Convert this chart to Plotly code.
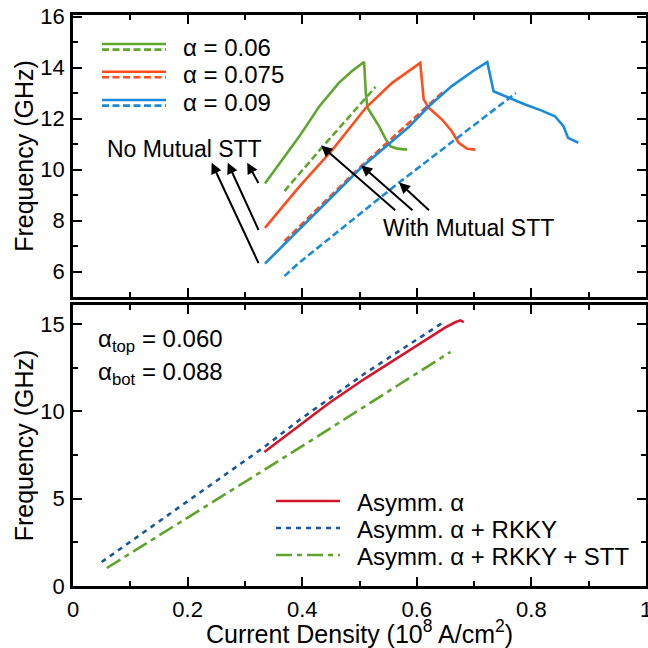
import plotly.graph_objects as go

# ---------------- data: top panel ----------------
x_g_no = [0.335, 0.395, 0.430, 0.464, 0.487, 0.508, 0.511, 0.514, 0.534, 0.546, 0.554, 0.566, 0.583]
y_g_no = [9.45, 11.30, 12.48, 13.40, 13.86, 14.22, 13.00, 12.42, 11.70, 11.18, 10.91, 10.82, 10.78]
x_g_mu = [0.369, 0.432, 0.528]
y_g_mu = [9.15, 10.80, 13.24]

x_r_no = [0.335, 0.395, 0.453, 0.511, 0.557, 0.586, 0.603, 0.606, 0.612, 0.621, 0.644, 0.661, 0.673, 0.688, 0.702]
y_r_no = [7.71, 9.33, 10.78, 12.42, 13.40, 13.86, 14.10, 14.18, 12.75, 12.42, 11.96, 11.50, 11.05, 10.81, 10.78]
x_r_mu = [0.369, 0.499, 0.647]
y_r_mu = [7.19, 10.05, 13.07]

x_b_no = [0.335, 0.395, 0.503, 0.586, 0.621, 0.661, 0.702, 0.723, 0.734, 0.743, 0.760, 0.789, 0.818, 0.841, 0.856, 0.864, 0.882]
y_b_no = [6.31, 7.65, 10.08, 11.67, 12.48, 13.27, 13.92, 14.21, 13.07, 12.98, 12.81, 12.55, 12.31, 12.09, 11.70, 11.24, 11.05]
x_b_mu = [0.369, 0.395, 0.569, 0.773]
y_b_mu = [5.82, 6.35, 9.49, 13.00]

top_labels = ["α = 0.06", "α = 0.075", "α = 0.09"]

# ---------------- data: bottom panel ----------------
x_asym = [0.334, 0.395, 0.447, 0.511, 0.650, 0.667, 0.676, 0.682]
y_asym = [7.67, 9.20, 10.47, 11.90, 14.80, 15.09, 15.20, 15.10]
x_rkky = [0.050, 0.334, 0.395, 0.511, 0.650]
y_rkky = [1.37, 7.96, 9.50, 12.20, 15.17]
x_stt = [0.059, 0.334, 0.395, 0.659]
y_stt = [1.03, 6.64, 7.90, 13.40]
bottom_labels = ["Asymm. α", "Asymm. α + RKKY", "Asymm. α + RKKY + STT"]

GREEN, ORANGE, BLUE = "#5ea62c", "#ff4d1c", "#1b8ad8"
RED2, BLUE2, GREEN2 = "#d4152a", "#1a5799", "#5ca52a"
LW = 2.6
DASH_TOP = "7px,3.5px"
DOT_BOT = "5px,5px"
DASHDOT_BOT = "16px,5px,5px,5px"

FONT = "Liberation Sans, Arial, sans-serif"
W, H, L, R, T, B = 648, 648, 73, 2, 15, 62


def px_x(p):
    return (p - L) / (W - L - R)


def px_y(p):
    return (H - B - p) / (H - T - B)


fig = go.Figure()


def add(x, y, color, dash, xa, ya):
    fig.add_trace(go.Scatter(x=x, y=y, mode="lines", xaxis=xa, yaxis=ya,
                             line=dict(color=color, width=LW, dash=dash),
                             showlegend=False, hoverinfo="skip"))


add(x_g_no, y_g_no, GREEN, "solid", "x", "y")
add(x_g_mu, y_g_mu, GREEN, DASH_TOP, "x", "y")
add(x_r_no, y_r_no, ORANGE, "solid", "x", "y")
add(x_r_mu, y_r_mu, ORANGE, DASH_TOP, "x", "y")
add(x_b_no, y_b_no, BLUE, "solid", "x", "y")
add(x_b_mu, y_b_mu, BLUE, DASH_TOP, "x", "y")

add(x_asym, y_asym, RED2, "solid", "x2", "y2")
add(x_rkky, y_rkky, BLUE2, DOT_BOT, "x2", "y2")
add(x_stt, y_stt, GREEN2, DASHDOT_BOT, "x2", "y2")

axis_common = dict(showline=True, linecolor="black", linewidth=2.5, mirror="allticks",
                   ticks="inside", ticklen=9, tickwidth=2, tickcolor="black",
                   showgrid=False, zeroline=False, automargin=False,
                   ticklabeloverflow="allow",
                   tickfont=dict(family=FONT, size=22, color="black"))
minor_common = dict(ticklen=5, tickwidth=2, ticks="inside", tickcolor="black", showgrid=False)

top_dom = [px_y(297), 1.0]
bot_dom = [0.0, px_y(305)]

fig.update_layout(
    template="none",
    width=W, height=H,
    margin=dict(l=L, r=R, t=T, b=B, autoexpand=False),
    plot_bgcolor="white", paper_bgcolor="white",
    font=dict(family=FONT, size=22, color="black"),
    showlegend=False,
    xaxis=dict(axis_common, range=[0, 1], dtick=0.2, showticklabels=False,
               domain=[0, 1], anchor="y",
               minor=dict(minor_common, dtick=0.1)),
    yaxis=dict(axis_common, range=[5.0, 16.06], tickvals=[6, 8, 10, 12, 14, 16],
               domain=top_dom, anchor="x", ticklabelstandoff=1,
               minor=dict(minor_common, tickvals=[7, 9, 11, 13, 15]),
               title=dict(text="Frequency (GHz)", font=dict(family=FONT, size=25), standoff=0)),
    xaxis2=dict(axis_common, range=[0, 1], tickvals=[0, 0.2, 0.4, 0.6, 0.8, 1],
                ticktext=["0", "0.2", "0.4", "0.6", "0.8", "1"],
                domain=[0, 1], anchor="y2", ticklabelstandoff=2,
                minor=dict(minor_common, dtick=0.1),
                title=dict(text="Current Density (10<sup>8</sup> A/cm<sup>2</sup>)",
                           font=dict(family=FONT, size=25), standoff=6)),
    yaxis2=dict(axis_common, range=[0, 16.08], tickvals=[0, 5, 10, 15],
                domain=bot_dom, anchor="x2", ticklabelstandoff=1,
                minor=dict(minor_common, tickvals=[2.5, 7.5, 12.5]),
                title=dict(text="Frequency (GHz)", font=dict(family=FONT, size=25), standoff=0)),
)

# ---------------- manual legend, top panel ----------------
top_colors = [GREEN, ORANGE, BLUE]
top_solid_y = [44, 71.7, 100]
for lab, col, yy in zip(top_labels, top_colors, top_solid_y):
    fig.add_shape(type="line", xref="paper", yref="paper",
                  x0=px_x(102), x1=px_x(166), y0=px_y(yy), y1=px_y(yy),
                  line=dict(color=col, width=LW))
    fig.add_shape(type="line", xref="paper", yref="paper",
                  x0=px_x(102), x1=px_x(166), y0=px_y(yy + 5.6), y1=px_y(yy + 5.6),
                  line=dict(color=col, width=LW, dash=DASH_TOP))
    fig.add_annotation(xref="paper", yref="paper", x=px_x(181), y=px_y(yy + 3),
                       text=lab, showarrow=False, xanchor="left", yanchor="middle",
                       font=dict(family=FONT, size=24, color="black"))

# ---------------- manual legend, bottom panel ----------------
bot_colors = [RED2, BLUE2, GREEN2]
bot_dashes = ["solid", DOT_BOT, DASHDOT_BOT]
bot_y = [501, 528, 555]
for lab, col, d, yy in zip(bottom_labels, bot_colors, bot_dashes, bot_y):
    fig.add_shape(type="line", xref="paper", yref="paper",
                  x0=px_x(276), x1=px_x(340), y0=px_y(yy), y1=px_y(yy),
                  line=dict(color=col, width=LW, dash=d))
    fig.add_annotation(xref="paper", yref="paper", x=px_x(355), y=px_y(yy + 1.5),
                       text=lab, showarrow=False, xanchor="left", yanchor="middle",
                       font=dict(family=FONT, size=24, color="black"))

fig.add_annotation(xref="paper", yref="paper", x=px_x(96), y=px_y(340),
                   text="α<sub>top</sub> = 0.060", showarrow=False, xanchor="left", yanchor="middle",
                   font=dict(family=FONT, size=24, color="black"))
fig.add_annotation(xref="paper", yref="paper", x=px_x(96), y=px_y(373),
                   text="α<sub>bot</sub> = 0.088", showarrow=False, xanchor="left", yanchor="middle",
                   font=dict(family=FONT, size=24, color="black"))

# ---------------- arrows + labels, top panel ----------------
no_heads = [(0.242, 10.27), (0.270, 10.27), (0.304, 10.27)]
no_tails = [(0.325, 6.27), (0.325, 7.57), (0.325, 9.41)]
mu_heads = [(0.433, 10.94), (0.503, 10.16), (0.569, 9.49)]
mu_tails = [(0.565, 8.35), (0.595, 8.35), (0.624, 8.35)]
for (hx, hy), (tx, ty) in list(zip(no_heads, no_tails)) + list(zip(mu_heads, mu_tails)):
    fig.add_annotation(x=hx, y=hy, ax=tx, ay=ty, xref="x", yref="y", axref="x", ayref="y",
                       text="", showarrow=True, arrowhead=2, arrowsize=1.1, arrowwidth=2,
                       arrowcolor="black", standoff=0, startstandoff=0)

fig.add_annotation(x=0.195, y=10.80, xref="x", yref="y", text="No Mutual STT", showarrow=False,
                   font=dict(family=FONT, size=23, color="black"))
fig.add_annotation(x=0.690, y=7.70, xref="x", yref="y", text="With Mutual STT", showarrow=False,
                   font=dict(family=FONT, size=23, color="black"))

fig.write_html("out.html",
               config={"displayModeBar": False},
               post_script="document.body.style.margin='0';document.body.style.padding='0';")
